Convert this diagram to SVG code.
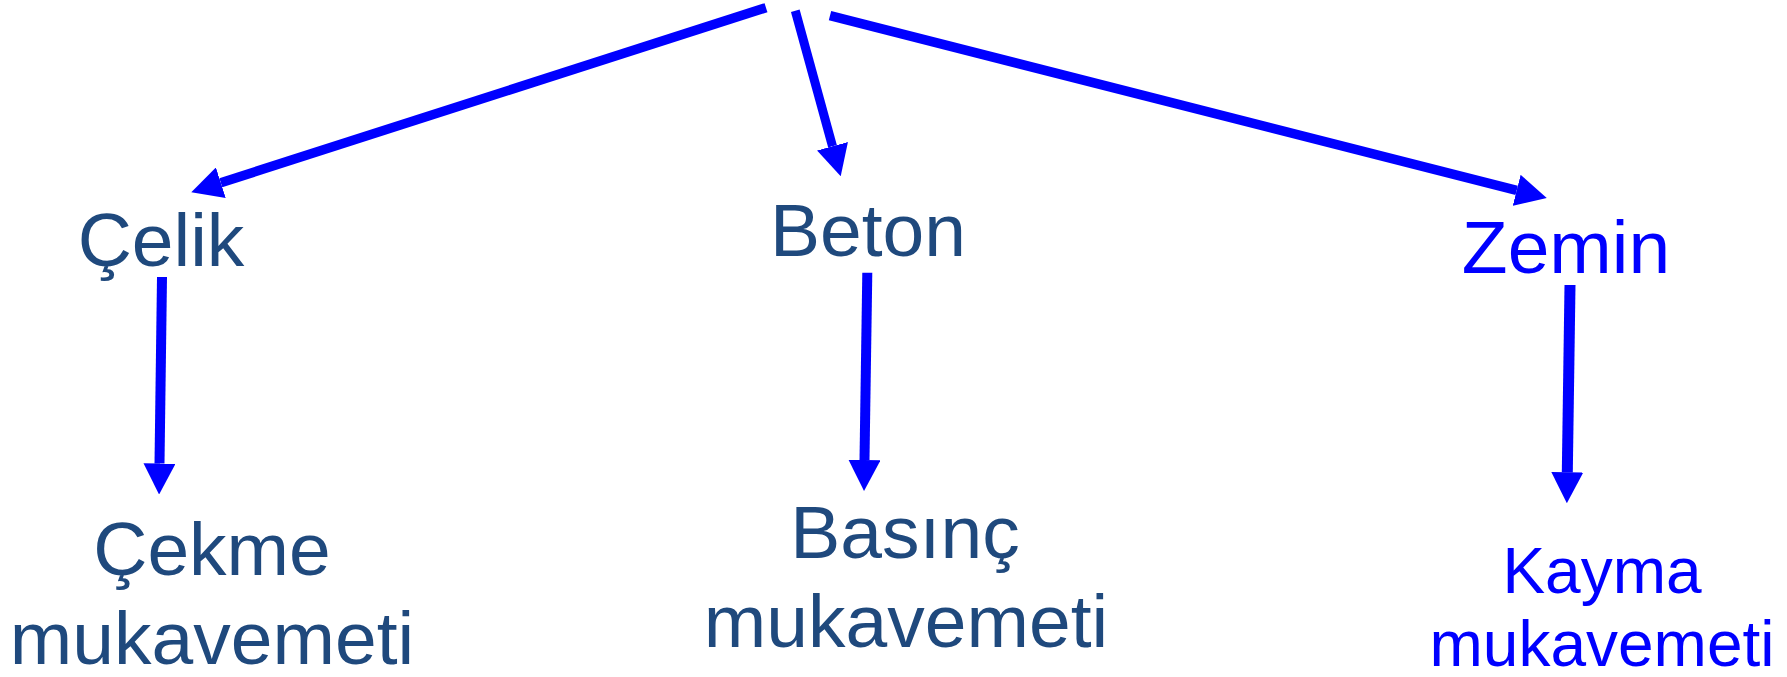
<svg xmlns="http://www.w3.org/2000/svg" width="1787" height="677" viewBox="0 0 1787 677">
<style>
  .t { font-family: "Liberation Sans", Arial, sans-serif; text-anchor: middle; }
  .dark { fill: #1F497D; font-size: 75px; }
  .blue { fill: #0000FF; }
  .conn line { stroke: #0000FF; fill: none; }
</style>
<defs>
  <marker id="ah" viewBox="0 0 31 32" refX="0" refY="16" markerWidth="31" markerHeight="32" markerUnits="userSpaceOnUse" orient="auto">
    <path d="M0,0 L31,16 L0,32 Z" fill="#0000FF"/>
  </marker>
</defs>
<rect width="1787" height="677" fill="#FFFFFF"/>
<g id="connectors" class="conn">
  <line x1="766" y1="7.7" x2="220.8" y2="182.7" stroke-width="9.5" marker-end="url(#ah)"/>
  <line x1="795.3" y1="10.7" x2="832.5" y2="146.3" stroke-width="9" marker-end="url(#ah)"/>
  <line x1="830" y1="15.7" x2="1516.7" y2="190.3" stroke-width="9.5" marker-end="url(#ah)"/>
  <line x1="162" y1="277" x2="159.5" y2="463.5" stroke-width="10" marker-end="url(#ah)"/>
  <line x1="867.3" y1="272.7" x2="864.5" y2="460" stroke-width="10" marker-end="url(#ah)"/>
  <line x1="1570" y1="285" x2="1567.3" y2="472.3" stroke-width="11" marker-end="url(#ah)"/>
</g>
<g id="celik"><text class="t dark" x="161" y="266">Çelik</text></g>
<g id="beton"><text class="t dark" x="868" y="256">Beton</text></g>
<g id="zemin"><text class="t blue" x="1566" y="273" font-size="75">Zemin</text></g>
<g id="cekme">
  <text class="t dark" x="212" y="575">Çekme</text>
  <text class="t dark" x="212" y="664">mukavemeti</text>
</g>
<g id="basinc">
  <text class="t dark" x="905" y="558">Basınç</text>
  <text class="t dark" x="906" y="647">mukavemeti</text>
</g>
<g id="kayma">
  <text class="t blue" x="1602" y="593" font-size="64">Kayma</text>
  <text class="t blue" x="1602" y="666" font-size="64">mukavemeti</text>
</g>
</svg>
